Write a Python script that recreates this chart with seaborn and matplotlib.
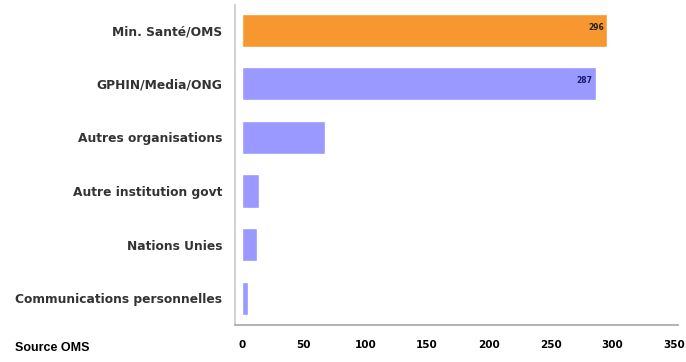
import matplotlib
matplotlib.use("Agg")
import matplotlib.pyplot as plt
import seaborn as sns
import pandas as pd

categories = ["Min. Santé/OMS", "GPHIN/Media/ONG", "Autres organisations",
              "Autre institution govt", "Nations Unies", "Communications personnelles"]
values = [296, 287, 67, 14, 12, 5]
bar_colors = ["#F7972F", "#9999FF", "#9999FF", "#9999FF", "#9999FF", "#9999FF"]
xticks = [0, 50, 100, 150, 200, 250, 300, 350]

sns.set_theme(style="white")
plt.rcParams['font.family'] = ['DejaVu Sans']

df = pd.DataFrame({"cat": categories, "val": values})
fig = plt.figure(figsize=(6.86, 3.62), dpi=100)
ax = fig.add_axes([0.342, 0.102, 0.646, 0.884])
sns.barplot(data=df, x="val", y="cat", hue="cat", palette=bar_colors, legend=False,
            width=0.62, ax=ax, saturation=1)

label_colors = ["#222222", "#1a1a6e"]
for i in range(2):
    ax.text(values[i] - 3, i - 0.06, str(values[i]), ha="right", va="center",
            fontsize=5.5, fontweight="bold", color=label_colors[i])

ax.set_xlim(-6, 353)
ax.set_ylim(5.5, -0.47)
ax.set_xticks(xticks)
ax.set_xticklabels([str(t) for t in xticks], fontsize=7.5, fontweight="bold", color="black")
ax.set_yticks(range(len(categories)))
ax.set_yticklabels(categories, fontsize=8.8, fontweight="bold", color="#333333")
ax.set_xlabel("")
ax.set_ylabel("")
for s in ["top", "right"]:
    ax.spines[s].set_visible(False)
ax.spines["left"].set_color("#cccccc")
ax.spines["bottom"].set_color("#aaaaaa")
ax.tick_params(axis="x", length=4, color="#aaaaaa", pad=7)
ax.tick_params(axis="y", length=0, pad=9)

fig.text(0.022, 0.022, "Source OMS", fontsize=9, color="black", ha="left", va="bottom",
         family="Liberation Sans", fontweight="semibold")

fig.savefig("out.png", dpi=100)
